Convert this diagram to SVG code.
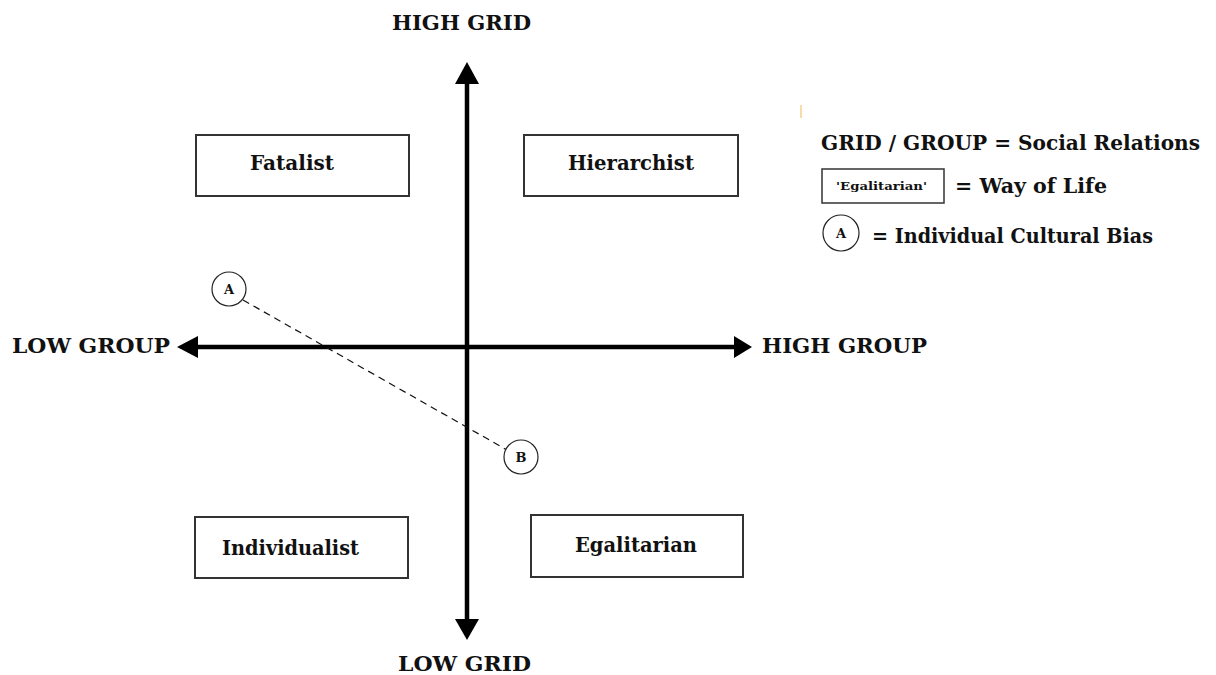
<svg xmlns="http://www.w3.org/2000/svg" width="1216" height="675" viewBox="0 0 1216 675">
  <defs>
    <style>
      .lbl { font-family: "DejaVu Serif", "Liberation Serif", serif; font-weight: bold; fill: #111; }
      .big { font-size: 21px; }
      .sm { font-size: 11px; }
      .let { font-size: 13px; }
      .box { fill: #fff; stroke: #333; stroke-width: 2; }
      .bias { fill: #fff; stroke: #222; stroke-width: 1.2; }
      .axis { stroke: #000; stroke-width: 4.5; fill: none; }
    </style>
  </defs>
  <rect width="1216" height="675" fill="#fff"/>

  <!-- axes and the A-B link -->
  <g id="connectors">
    <line class="axis" x1="467" y1="80" x2="467" y2="622"/>
    <polygon points="467,62 455,84 479,84" fill="#000"/>
    <polygon points="467,640 455,619 479,619" fill="#000"/>
    <line class="axis" x1="195" y1="347" x2="736" y2="347"/>
    <polygon points="177,347 198,336 198,358" fill="#000"/>
    <polygon points="752,347 734,336 734,358" fill="#000"/>
    <line x1="243" y1="300" x2="507" y2="450" stroke="#111" stroke-width="1.2" stroke-dasharray="7,5"/>
  </g>

  <!-- axis labels -->
  <g id="axis-labels">
    <text class="lbl big" x="392" y="30" textLength="139" lengthAdjust="spacingAndGlyphs">HIGH GRID</text>
    <text class="lbl big" x="398" y="671" textLength="133" lengthAdjust="spacingAndGlyphs">LOW GRID</text>
    <text class="lbl big" x="12" y="353" textLength="158" lengthAdjust="spacingAndGlyphs">LOW GROUP</text>
    <text class="lbl big" x="762" y="353" textLength="165" lengthAdjust="spacingAndGlyphs">HIGH GROUP</text>
  </g>

  <!-- ways of life -->
  <g id="fatalist">
    <rect class="box" x="196" y="135" width="213" height="61"/>
    <text class="lbl big" x="250" y="170" textLength="84" lengthAdjust="spacingAndGlyphs">Fatalist</text>
  </g>
  <g id="hierarchist">
    <rect class="box" x="524" y="135" width="214" height="61"/>
    <text class="lbl big" x="568" y="170" textLength="126" lengthAdjust="spacingAndGlyphs">Hierarchist</text>
  </g>
  <g id="individualist">
    <rect class="box" x="195" y="517" width="213" height="61"/>
    <text class="lbl big" x="222" y="555" textLength="137" lengthAdjust="spacingAndGlyphs">Individualist</text>
  </g>
  <g id="egalitarian">
    <rect class="box" x="531" y="515" width="212" height="62"/>
    <text class="lbl big" x="575" y="552" textLength="122" lengthAdjust="spacingAndGlyphs">Egalitarian</text>
  </g>

  <!-- individual cultural biases -->
  <g id="bias-a">
    <circle class="bias" cx="229" cy="289" r="17"/>
    <text class="lbl let" x="229" y="294" text-anchor="middle">A</text>
  </g>
  <g id="bias-b">
    <circle class="bias" cx="521" cy="457" r="17"/>
    <text class="lbl let" x="521" y="462" text-anchor="middle">B</text>
  </g>

  <!-- key -->
  <g id="legend">
    <line x1="801" y1="105" x2="801" y2="118" stroke="#f6cf8e" stroke-width="1.5"/>
    <text class="lbl big" x="821" y="150" textLength="379" lengthAdjust="spacingAndGlyphs">GRID / GROUP = Social Relations</text>
    <rect x="822" y="169" width="122" height="34" fill="#fff" stroke="#333" stroke-width="1.5"/>
    <text class="lbl sm" x="836" y="190" textLength="91" lengthAdjust="spacingAndGlyphs">'Egalitarian'</text>
    <text class="lbl big" x="955" y="193" textLength="152" lengthAdjust="spacingAndGlyphs">= Way of Life</text>
    <circle class="bias" cx="841" cy="233" r="18"/>
    <text class="lbl let" x="841" y="238" text-anchor="middle">A</text>
    <text class="lbl big" x="872" y="243" textLength="281" lengthAdjust="spacingAndGlyphs">= Individual Cultural Bias</text>
  </g>
</svg>
